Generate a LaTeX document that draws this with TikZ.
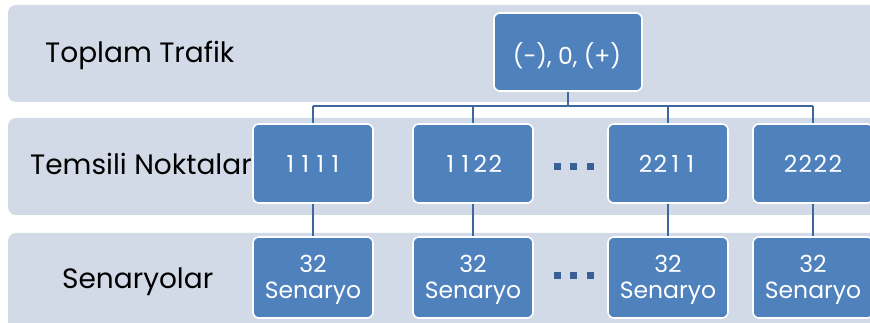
\documentclass[tikz,border=0pt]{standalone}
\usepackage{fontspec}
\setmainfont{Poppins}
\definecolor{bandfill}{HTML}{D3DAE7}
\definecolor{boxfill}{HTML}{4F81BD}
\definecolor{linkcol}{HTML}{3F679E}
\definecolor{dotcol}{HTML}{3A5F95}
% digits set in equal-width cells, as in a tabular figure style
\newcommand\digitcell[1]{\makebox[15pt][c]{#1}}
\def\fourdigits#1#2#3#4{\digitcell{#1}\digitcell{#2}\digitcell{#3}\digitcell{#4}}
\begin{document}
\begin{tikzpicture}[x=1pt,y=-1pt,
  band/.style={fill=bandfill,rounded corners=8pt},
  rowlabel/.style={text=black,font=\fontsize{28}{30}\selectfont,inner sep=0pt,anchor=base west},
  box/.style={draw=white,line width=1.6pt,fill=boxfill,rounded corners=6pt,inner sep=0pt},
  boxtext/.style={text=white,font=\fontsize{23.5}{26}\selectfont,inner sep=0pt,anchor=base},
  link/.style={draw=linkcol,line width=2pt},
  dot/.style={fill=dotcol,minimum size=7pt,inner sep=0pt}]
\useasboundingbox (0,0) rectangle (870,323);
\begin{scope}
\clip (0,0) rectangle (870,323);
% background bands
\fill[band] (8,5) rectangle (890,102);
\fill[band] (8,118) rectangle (890,215);
\fill[band] (8,233) rectangle (890,340);
\end{scope}
% row labels
\node[rowlabel] (l1) at (45,63) {Toplam Trafik};
\node[rowlabel] (l2) at (30,175) {Temsili Noktalar};
\node[rowlabel] (l3) at (62,288) {Senaryolar};
% top box
\node[box,minimum width=148pt,minimum height=78pt] (top) at (568,52) {};
\node[boxtext] (ttop) at (567,65) {(-), 0, (+)};
% representative points and their scenario boxes
\foreach \n/\x/\code in {a/313/1111,b/473/1122,c/668/2211,d/813/2222}{
  \node[box,minimum width=120pt,minimum height=79pt] (p\n) at (\x,163.5) {};
  \node[box,minimum width=120pt,minimum height=81pt] (s\n) at (\x,277.5) {};
  \node[boxtext] (tp\n) at (\x,173) {\expandafter\fourdigits\code};
  \node[boxtext] (tn\n) at (\x,272) {32};
  \node[boxtext] (ts\n) at (\x,298) {Senaryo};
}
% connectors
\coordinate (bus) at (568,106.5);
\draw[link] (top.south) -- (bus);
\draw[link] (pa.north |- bus) -- (pd.north |- bus);
\foreach \n in {a,b,c,d}{
  \draw[link] (p\n.north |- bus) -- (p\n.north);
  \draw[link] (p\n.south) -- (s\n.north);
}
% ellipsis squares
\foreach \y/\r in {167/p,275/s}{
  \foreach \dx/\k in {557.5/1,573.5/2,590.5/3}
    \node[dot] (\r dot\k) at (\dx,\y) {};
}
\end{tikzpicture}
\end{document}
